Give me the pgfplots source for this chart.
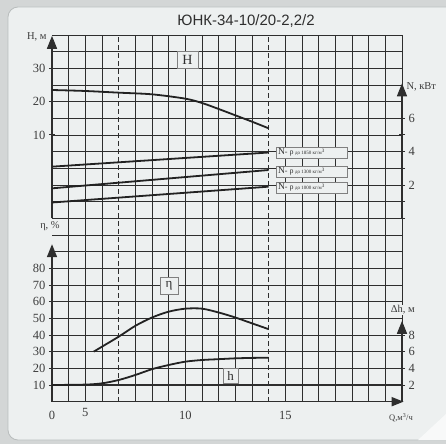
\documentclass[border=0pt]{standalone}
\usepackage{pgfplots}
\pgfplotsset{compat=1.18}
\usetikzlibrary{arrows.meta}
\usepackage{fontspec}
\setmainfont{Liberation Serif}
\newfontfamily\titlefont{Liberation Sans}
\definecolor{outer}{HTML}{D3D6D6}
\definecolor{panel}{HTML}{EDF0F0}
\definecolor{bordc}{HTML}{B9BDBD}
\definecolor{gridc}{HTML}{2E2E2E}
\definecolor{txt}{HTML}{3C3C3C}
\definecolor{curve}{HTML}{222222}
\newcommand{\nlab}[1]{\makebox[67pt][l]{{\fontsize{9.5}{9}\selectfont N}{\fontsize{8}{8}\selectfont - ρ}\,{\fontsize{5}{5}\selectfont до #1\ кг/м\textsuperscript{3}}}}
\pgfplotsset{
  base/.style={scale only axis, width=350pt, height=366.67pt, xmin=0, xmax=21,
    at={(52pt,42.33pt)}, anchor=south west, axis line style={draw=none}, clip=false,
    /pgf/number format/assume math mode=true,
    ticklabel style={font=\fontsize{12.5}{13}\selectfont, text=txt},
    major tick length=6pt, tick align=center, tick style={gridc, line width=1pt},
    xtick=\empty},
  crv/.style={curve, line width=1.8pt, smooth, no markers},
}
\tikzset{nbox/.style={draw=gray, fill=panel, text=gridc, minimum width=71pt, minimum height=11pt, inner sep=1pt}}
\begin{document}
\begin{tikzpicture}
\clip (0,0) rectangle (446pt,444pt);
\fill[outer] (0,0) rectangle (446pt,444pt);
\fill[panel, draw=bordc, line width=0.8pt, rounded corners=10pt] (8pt,4pt) rectangle (470pt,437pt);
\fill[white!60!panel] (418pt,4pt) -- (446pt,30pt) -- (446pt,4pt) -- cycle;
\node[font=\titlefont\fontsize{15}{15}\selectfont, text=gridc] at (246pt,423pt) {ЮНК-34-10/20-2,2/2};

% grid axis (grid units)
\begin{axis}[base, ymin=0, ymax=22,
  xtick={1,2,3,5,6,7,8,9,10,11,12,14,15,16,17,18,19,20,21}, ytick={1,...,22},
  xticklabels={}, yticklabels={}, tick style={draw=none},
  grid=major, major grid style={gridc, line width=0.65pt}]
  \draw[gridc, line width=0.65pt, dash pattern=on 5pt off 3pt] (axis cs:4,0) -- (axis cs:4,22);
  \draw[gridc, line width=0.65pt, dash pattern=on 5pt off 3pt] (axis cs:13,0) -- (axis cs:13,22);
  \draw[gridc, line width=0.65pt] (axis cs:0,22) -- (axis cs:21,22);
  \draw[gridc, line width=1.6pt] (axis cs:0,11) -- (axis cs:21,11);
  \draw[gridc, line width=1.6pt] (axis cs:0,1) -- (axis cs:21,1);
  \draw[gridc, line width=1.6pt, -{Triangle[width=10pt,length=13pt]}] (axis cs:0,11) -- (axis cs:0,21.95);
  \draw[gridc, line width=1.6pt, -{Triangle[width=10pt,length=13pt]}] (axis cs:21,11) -- (axis cs:21,19.1);
  \draw[gridc, line width=1.6pt, -{Triangle[width=10pt,length=13pt]}] (axis cs:0,0) -- (axis cs:0,9.45);
  \draw[gridc, line width=1.6pt, -{Triangle[width=10pt,length=13pt]}] (axis cs:21,0) -- (axis cs:21,4.85);
  \draw[gridc, line width=1.6pt, -{Triangle[width=9pt,length=12pt]}] (axis cs:0,0) -- (axis cs:21.1,0);
  % labels
  \node[anchor=east, font=\fontsize{10.5}{10}\selectfont, text=txt, inner sep=1pt] at (axis cs:-0.25,21.9) {H, м};
  \node[anchor=west, font=\fontsize{10.5}{10}\selectfont, text=txt, inner sep=1pt] at (axis cs:21.2,18.88) {N, кВт};
  \node[font=\fontsize{10.5}{10}\selectfont, text=txt, inner sep=1pt] at (axis cs:-0.12,10.54) {η, \%};
  \node[font=\fontsize{10.5}{10}\selectfont, text=txt, fill=panel, inner sep=1pt] at (axis cs:21.05,5.5) {Δh, м};
  \node[font=\fontsize{8.5}{8}\selectfont, text=txt, inner sep=1pt] at (axis cs:20.94,-0.98) {Q,м\textsuperscript{3}/ч};
  \node[anchor=north, font=\fontsize{12.5}{13}\selectfont, text=txt, yshift=-3pt] at (axis cs:2,0) {5};
  % curve tags
  \node[draw=gray, fill=panel, font=\fontsize{14}{14}\selectfont, text=gridc, minimum width=21pt, minimum height=17pt, inner sep=0pt] at (axis cs:8.13,20.5) {H};
  \node[draw=gray, fill=panel, font=\fontsize{13}{13}\selectfont, text=gridc, minimum width=18pt, minimum height=17pt, inner sep=0pt] at (axis cs:7.02,6.94) {η};
  \node[draw=gray, fill=panel, font=\fontsize{13}{13}\selectfont, text=gridc, minimum width=15pt, minimum height=15pt, inner sep=0pt] at (axis cs:10.71,1.57) {h};
  \node[nbox] at (axis cs:15.57,14.95) {\nlab{1850}};
  \node[nbox] at (axis cs:15.57,13.81) {\nlab{1300}};
  \node[nbox] at (axis cs:15.57,12.85) {\nlab{1000}};
\end{axis}

% H axis
\begin{axis}[base, ymin=-70, ymax=40, ytick={10,20,30}, ytick pos=left]
  \addplot[crv] coordinates {(0,23.5) (2,23.2) (4,22.7) (6,22.2) (8,20.9) (9,19.6) (10,17.8) (11,15.9) (12,14) (13,12)};
\end{axis}

% N axis
\begin{axis}[base, ymin=-11, ymax=11, ytick={0,1,2,3,4,5,6}, yticklabels={,,2,,4,,6}, ytick pos=right, yticklabel pos=right]
  \addplot[crv] coordinates {(0,3.1) (13,3.95)};
  \addplot[crv] coordinates {(0,1.8) (13,2.9)};
  \addplot[crv] coordinates {(0,0.95) (13,1.9)};
\end{axis}

% eta axis
\begin{axis}[base, ymin=0, ymax=220, ytick={10,20,...,80}, ytick pos=left]
  \addplot[crv] coordinates {(2.5,30) (3,33) (4,39) (5,45.5) (6,50.5) (7,54) (8,55.8) (9,55.8) (10,53.5) (11,50.5) (12,47) (13,43.5)};
\end{axis}

% delta h axis
\begin{axis}[base, ymin=0, ymax=44, ytick={2,4,6,8}, ytick pos=right, yticklabel pos=right]
  \addplot[crv] coordinates {(0,2) (2,2.05) (3,2.2) (4,2.6) (5,3.2) (6,3.9) (7,4.4) (8,4.8) (9,5.0) (10,5.1) (11,5.2) (12,5.25) (13,5.28)};
\end{axis}

% Q tick labels
\begin{axis}[base, ymin=0, ymax=22, ytick=\empty, xtick={0,8,14}, xticklabels={0,10,15},
  xtick pos=bottom, tick style={draw=none}, xticklabel style={yshift=-3pt}]
\end{axis}
\end{tikzpicture}
\end{document}
